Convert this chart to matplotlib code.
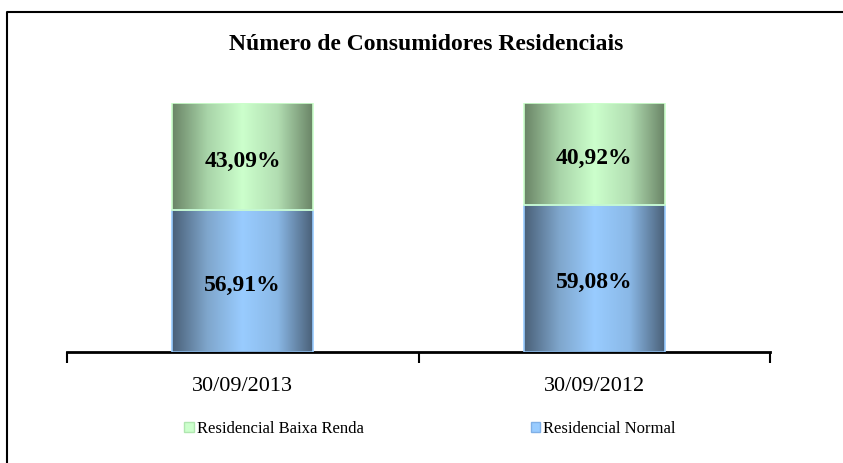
import numpy as np
import matplotlib
matplotlib.use("Agg")
import matplotlib.pyplot as plt
from matplotlib.colors import LinearSegmentedColormap
from matplotlib.patches import Patch
from matplotlib.lines import Line2D

categories = ["30/09/2013", "30/09/2012"]
normal = [56.91, 59.08]
baixa = [43.09, 40.92]
labels_normal = ["56,91%", "59,08%"]
labels_baixa = ["43,09%", "40,92%"]
series_names = ["Residencial Baixa Renda", "Residencial Normal"]

plt.rcParams["font.family"] = ["Liberation Serif", "DejaVu Serif"]

W, H = 843, 463
fig = plt.figure(figsize=(W / 100, H / 100), dpi=100)
ax = fig.add_axes([67 / W, 1 - 352 / H, (770 - 67) / W, (352 - 103) / H])

blue_cm = LinearSegmentedColormap.from_list(
    "blue", ["#4a6078", "#7fa6cc", "#99ccff", "#8ab8e6", "#4a6078"])
green_cm = LinearSegmentedColormap.from_list(
    "green", ["#6a8466", "#a8d4a8", "#ccffcc", "#b2deb2", "#6a8466"])
grad = np.linspace(0, 1, 256).reshape(1, -1)

x = np.arange(len(categories))
width = 0.4
b1 = ax.bar(x, normal, width, facecolor="none", edgecolor="#99ccff", lw=1.2, zorder=3)
b2 = ax.bar(x, baixa, width, bottom=normal, facecolor="none", edgecolor="#ccffcc",
            lw=1.2, zorder=3)

# horizontal "cylinder" shading, clipped to each bar segment
for bars, cm in ((b1, blue_cm), (b2, green_cm)):
    for p in bars:
        x0, y0 = p.get_x(), p.get_y()
        im = ax.imshow(grad, extent=[x0, x0 + p.get_width(), y0, y0 + p.get_height()],
                       aspect="auto", cmap=cm, zorder=2, interpolation="bilinear")
        im.set_clip_path(p)

for i in range(len(categories)):
    ax.annotate(labels_normal[i], (x[i], normal[i] / 2), xytext=(0, -3),
                textcoords="offset points", ha="center", va="center",
                fontsize=17, fontweight="bold", zorder=4)
    ax.annotate(labels_baixa[i], (x[i], normal[i] + baixa[i] / 2), xytext=(0, -3.5),
                textcoords="offset points", ha="center", va="center",
                fontsize=17, fontweight="bold", zorder=4)

ax.set_xlim(-0.5, 1.5)
ax.set_ylim(0, 100)
for s in ("top", "right", "left"):
    ax.spines[s].set_visible(False)
ax.spines["bottom"].set_linewidth(2)
ax.set_yticks([])
ax.set_xticks(x)
ax.set_xticklabels(categories, fontsize=16)
ax.set_xticks([-0.5, 0.5, 1.5], minor=True)
ax.tick_params(axis="x", which="major", length=0, pad=18)
ax.tick_params(axis="x", which="minor", length=8, width=1.5, direction="out")

fig.text(426 / W, 1 - 44 / H, "Número de Consumidores Residenciais", ha="center",
         va="center", fontsize=17, fontweight="bold")

handles = [Patch(facecolor="#ccffcc", edgecolor="#b0e6b0"),
           Patch(facecolor="#99ccff", edgecolor="#80b0e6")]
fig.legend(handles, series_names, loc="center", bbox_to_anchor=(430 / W, 1 - 429 / H),
           ncol=2, frameon=False, fontsize=12, handlelength=0.55, handleheight=0.55,
           handletextpad=0.2, columnspacing=10)

# chart frame: only left and top edges are visible (cropped screenshot)
fx, fy = 7 / W, 1 - 12 / H
fig.add_artist(Line2D([fx, fx, 1.0], [0.0, fy, fy], transform=fig.transFigure,
                      color="black", lw=1.5))

fig.savefig("out.png", dpi=100)
